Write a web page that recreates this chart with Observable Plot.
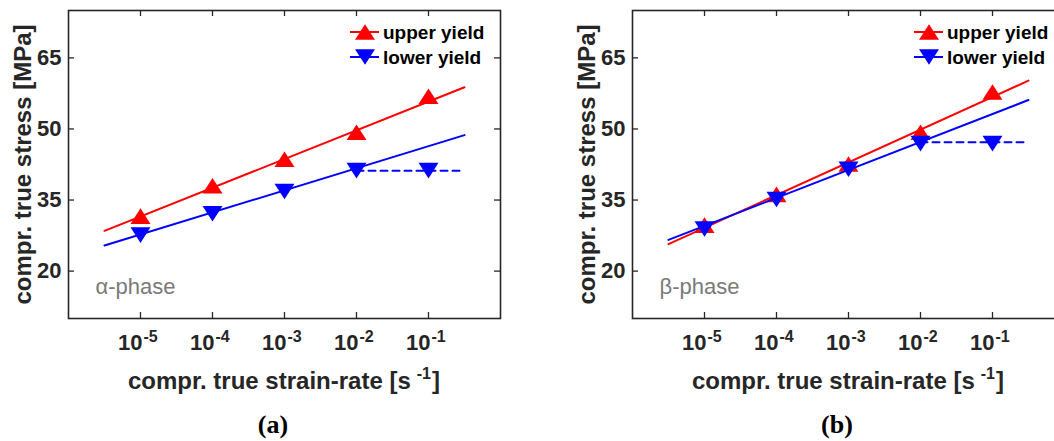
<!DOCTYPE html>
<html>
<head>
<meta charset="utf-8">
<script src="https://cdn.jsdelivr.net/npm/d3@7"></script>
<script src="https://cdn.jsdelivr.net/npm/@observablehq/plot@0.6"></script>
<style>
  body { margin: 0; background: #fff; }
  #fig { position: relative; width: 1054px; height: 441px; overflow: hidden;
         font-family: "Liberation Sans", Arial, sans-serif; color: #262626; }
  .panel { position: absolute; top: 0; width: 564px; height: 441px; }
  .panel > svg.plot { position: absolute; left: 0; top: 0; }
  .xtitle { position: absolute; left: 0; width: 568px; top: 366px; text-align: center;
            font-size: 24px; font-weight: bold; line-height: 30px; white-space: nowrap; }
  .xtitle sup { font-size: 16px; vertical-align: 10px; line-height: 0; margin-left: 6px; margin-right: 1px; }
  .caption { position: absolute; left: 0; width: 546px; top: 411px; text-align: center;
             font-family: "Liberation Serif", "Times New Roman", serif; font-weight: bold;
             font-size: 26px; line-height: 28px; color: #000; }
  .legend { position: absolute; left: 0; top: 0; overflow: visible; }
</style>
</head>
<body>
<div id="fig"></div>
<script>
// Strain-rate levels (s^-1) and their decade exponents used for tick labels
const rates = [1e-5, 1e-4, 1e-3, 1e-2, 1e-1];
const exponents = ["-5", "-4", "-3", "-2", "-1"];
const stressTicks = [20, 35, 50, 65];

// Measured yield stresses (MPa), α-phase
const alphaUpper = [31.6, 38.0, 43.6, 49.3, 56.9];
const alphaLower = [27.6, 32.1, 36.8, 41.2, 41.2];
// Measured yield stresses (MPa), β-phase
const betaUpper = [29.7, 36.2, 42.6, 49.3, 57.8];
const betaLower = [28.9, 35.1, 41.5, 46.9, 46.9];

// Log-linear fit lines: endpoints of the strain-rate range and fitted stress there
const fitRates = [3.16e-6, 0.316];
const alphaUpperFit = [28.5, 58.8];
const alphaLowerFit = [25.4, 48.7];
const betaUpperFit = [25.7, 60.2];
const betaLowerFit = [26.6, 56.1];

// Lower-yield plateau above 10^-2 s^-1
const plateauRates = [1e-2, 0.29];
const alphaPlateau = [41.2, 41.2];
const betaPlateau = [47.2, 47.2];

const INK = "#262626";
const RED = "#ff0000";
const BLUE = "#0000ff";

// Bounding-box centred triangles (pointing up / down)
const triUp = {draw(ctx, size) {
  const r = Math.sqrt(size / Math.PI), w = r, h = r * 0.78;
  ctx.moveTo(0, -h); ctx.lineTo(w, h); ctx.lineTo(-w, h); ctx.closePath();
}};
const triDown = {draw(ctx, size) {
  const r = Math.sqrt(size / Math.PI), w = r, h = r * 0.78;
  ctx.moveTo(0, h); ctx.lineTo(w, -h); ctx.lineTo(-w, -h); ctx.closePath();
}};

function panel(upper, lower, upperFit, lowerFit, plateau, phase) {
  const W = 564, H = 400, ml = 68, mr = 64, mt = 10, mb = 82;
  const fw = W - ml - mr, fh = H - mt - mb, tick = 6;
  return Plot.plot({
    width: W, height: H,
    marginLeft: ml, marginRight: mr, marginTop: mt, marginBottom: mb,
    style: {fontFamily: '"Liberation Sans", Arial, sans-serif', fontSize: "22px",
            fontWeight: "bold", color: INK, background: "transparent", overflow: "visible"},
    x: {type: "log", domain: [1e-6, 1], axis: null},
    y: {domain: [10, 75], axis: null},
    marks: [
      // inward ticks on all four sides
      Plot.tickY(stressTicks, {y: d => d, insetRight: fw - tick, stroke: INK, strokeWidth: 1.3}),
      Plot.tickY(stressTicks, {y: d => d, insetLeft: fw - tick, stroke: INK, strokeWidth: 1.3}),
      Plot.tickX(rates, {x: d => d, insetTop: fh - tick, stroke: INK, strokeWidth: 1.3}),
      Plot.tickX(rates, {x: d => d, insetBottom: fh - tick, stroke: INK, strokeWidth: 1.3}),
      // y tick labels
      Plot.axisY(stressTicks, {tickSize: 0, tickPadding: 7, label: null, fontSize: 22, fill: INK}),
      // x tick labels as 10 with a raised exponent
      Plot.text(rates, {x: d => d, frameAnchor: "bottom", text: () => "10", textAnchor: "end",
                        dx: 2, dy: 31.5, fontSize: 22, fill: INK}),
      Plot.text(rates, {x: d => d, frameAnchor: "bottom", text: (d, i) => exponents[i], textAnchor: "start",
                        dx: 3, dy: 23.5, fontSize: 16, fill: INK}),
      // y axis title
      Plot.text(["compr. true stress [MPa]"], {frameAnchor: "left", textAnchor: "middle", rotate: -90, dx: -45,
                        fontSize: 24, fill: INK}),
      // phase annotation
      Plot.text([phase], {frameAnchor: "bottom-left", textAnchor: "start", dx: 27, dy: -25,
                        fontSize: 22, fontWeight: "normal", fill: "#7a7a7a"}),
      // upper yield: fit and points
      Plot.line(fitRates, {x: d => d, y: (d, i) => upperFit[i], stroke: RED, strokeWidth: 2}),
      Plot.dot(rates, {x: d => d, y: (d, i) => upper[i], symbol: triUp, r: 10, fill: RED, stroke: "none"}),
      // lower yield: fit, points and plateau
      Plot.line(fitRates, {x: d => d, y: (d, i) => lowerFit[i], stroke: BLUE, strokeWidth: 2}),
      Plot.dot(rates, {x: d => d, y: (d, i) => lower[i], symbol: triDown, r: 10, fill: BLUE, stroke: "none"}),
      Plot.line(plateauRates, {x: d => d, y: (d, i) => plateau[i], stroke: BLUE, strokeWidth: 2,
                               strokeDasharray: "7,5"}),
      Plot.frame({stroke: INK, strokeWidth: 1.6})
    ]
  });
}

function legend() {
  const svg = d3.create("svg").attr("class", "legend").attr("width", 564).attr("height", 80);
  const items = [
    {label: "upper yield", color: RED, sym: triUp, y: 32},
    {label: "lower yield", color: BLUE, sym: triDown, y: 57}
  ];
  for (const it of items) {
    svg.append("line").attr("x1", 350).attr("x2", 379).attr("y1", it.y).attr("y2", it.y)
      .attr("stroke", it.color).attr("stroke-width", 2);
    svg.append("path").attr("d", d3.symbol(it.sym, Math.PI * 100)())
      .attr("transform", `translate(365,${it.y})`).attr("fill", it.color);
    svg.append("text").attr("x", 383).attr("y", it.y + 7)
      .attr("font-family", '"Liberation Sans", Arial, sans-serif')
      .attr("font-size", 19).attr("font-weight", "bold").attr("fill", "#000")
      .text(it.label);
  }
  return svg.node();
}

const fig = document.getElementById("fig");
const panels = [
  {left: 0, upper: alphaUpper, lower: alphaLower, uf: alphaUpperFit, lf: alphaLowerFit, pl: alphaPlateau, phase: "α-phase", cap: "(a)"},
  {left: 564, upper: betaUpper, lower: betaLower, uf: betaUpperFit, lf: betaLowerFit, pl: betaPlateau, phase: "β-phase", cap: "(b)"}
];
for (const p of panels) {
  const div = document.createElement("div");
  div.className = "panel";
  div.style.left = p.left + "px";
  div.appendChild(panel(p.upper, p.lower, p.uf, p.lf, p.pl, p.phase));
  div.appendChild(legend());
  const xt = document.createElement("div");
  xt.className = "xtitle";
  xt.innerHTML = "compr. true strain-rate [s<sup>-1</sup>]";
  div.appendChild(xt);
  const cap = document.createElement("div");
  cap.className = "caption";
  cap.textContent = p.cap;
  div.appendChild(cap);
  fig.appendChild(div);
}
</script>
</body>
</html>
